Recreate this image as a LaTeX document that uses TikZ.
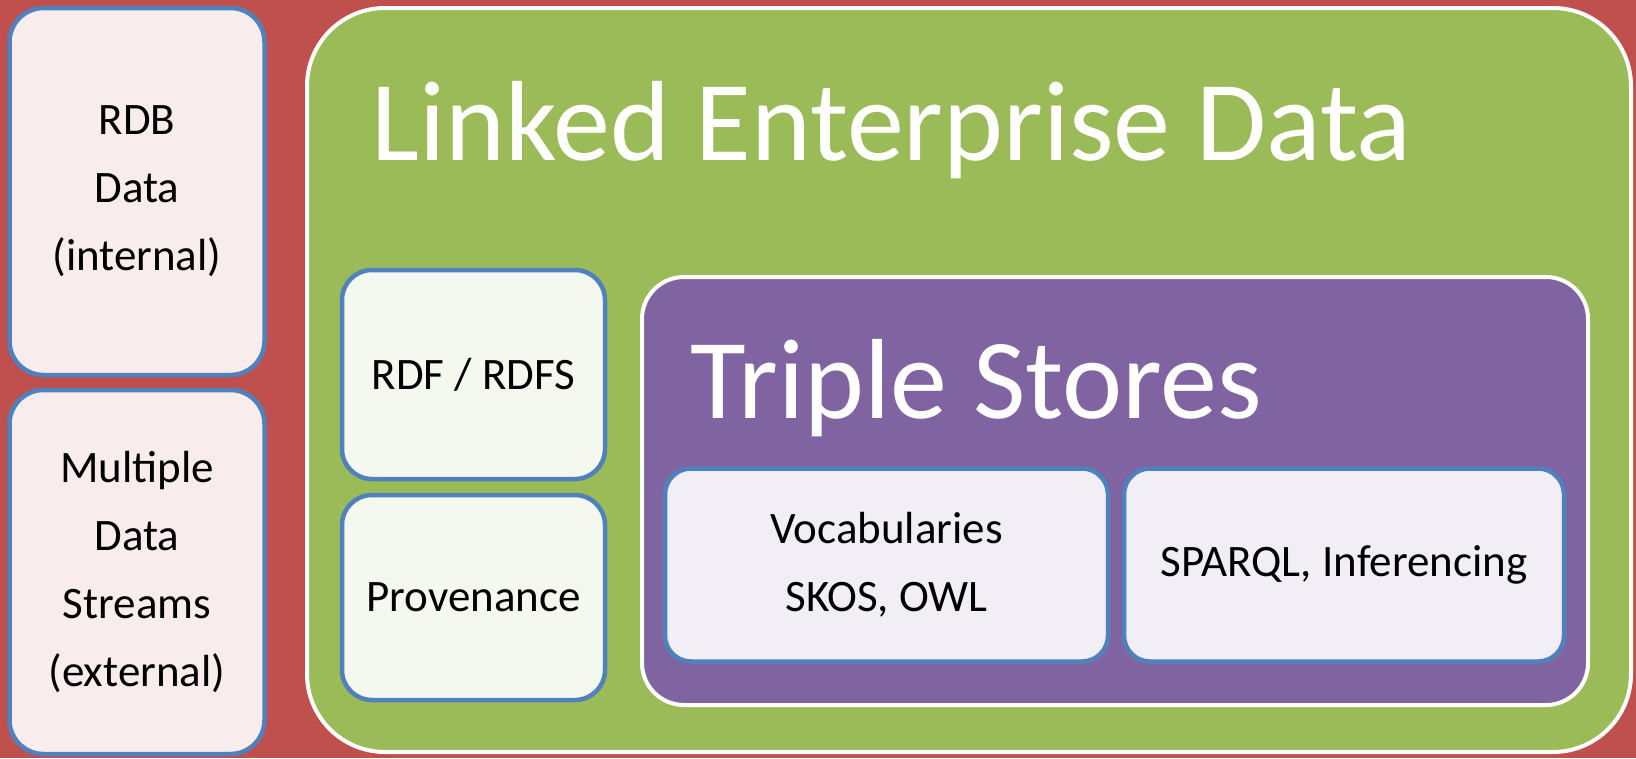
\documentclass[tikz,border=0pt]{standalone}
\usepackage{fontspec}
\setmainfont{Carlito}

\definecolor{bgred}{HTML}{C0504D}
\definecolor{ledgreen}{HTML}{9BBB59}
\definecolor{tspurple}{HTML}{8064A2}
\definecolor{cardblue}{HTML}{4F81BD}
\definecolor{pinkfill}{HTML}{F8ECEC}
\definecolor{palegreen}{HTML}{F4F8EE}
\definecolor{palelilac}{HTML}{F1EFF5}

\begin{document}
\begin{tikzpicture}[x=1pt, y=-1pt,
	card/.style={draw=cardblue, line width=4.5pt, rounded corners=#1, inner sep=0pt,
		align=center, font=\fontsize{45}{68}\selectfont},
	card/.default=30pt,
	panel/.style={draw=white, line width=4pt, rounded corners=#1, inner sep=0pt},
	heading/.style={anchor=base west, inner sep=0pt, text=white, font=\fontsize{114}{130}\selectfont}]
	
	% --- Background ---
	\fill[bgred] (0,0) rectangle (1636,758);
	\useasboundingbox (0,0) rectangle (1636,758);
	
	% =======================================================
	% LEFT COLUMN: data sources
	% =======================================================
	\node[card=34pt, fill=pinkfill, minimum width=255pt, minimum height=367pt] (rdb)
	at (137,191.5) {RDB\\Data\\(internal)};
	\node[card=34pt, fill=pinkfill, minimum width=255pt, minimum height=364pt] (streams)
	at (137,572) {Multiple\\Data\\Streams\\(external)};
	
	% =======================================================
	% LINKED ENTERPRISE DATA
	% =======================================================
	\node[panel=78pt, fill=ledgreen, minimum width=1324pt, minimum height=744pt] (led)
	at (969,380) {};
	\node[heading] (ledtitle) at (371,160) {Linked Enterprise Data};
	
	\node[card=30pt, fill=palegreen, minimum width=263pt, minimum height=209pt] (rdf)
	at (473.5,374.5) {RDF / RDFS};
	\node[card=30pt, fill=palegreen, minimum width=263pt, minimum height=205pt] (prov)
	at (473.5,597.5) {Provenance};
	
	% --- Triple stores ---
	\node[panel=42pt, fill=tspurple, minimum width=946pt, minimum height=428pt] (ts)
	at (1115,491) {};
	\node[heading] (tstitle) at (690,418) {Triple Stores};
	
	\node[card=26pt, fill=palelilac, minimum width=443pt, minimum height=193pt] (vocab)
	at (886.5,565) {Vocabularies\\SKOS, OWL};
	\node[card=26pt, fill=palelilac, minimum width=440pt, minimum height=193pt] (sparql)
	at (1344,565) {SPARQL, Inferencing};
	
\end{tikzpicture}
\end{document}
